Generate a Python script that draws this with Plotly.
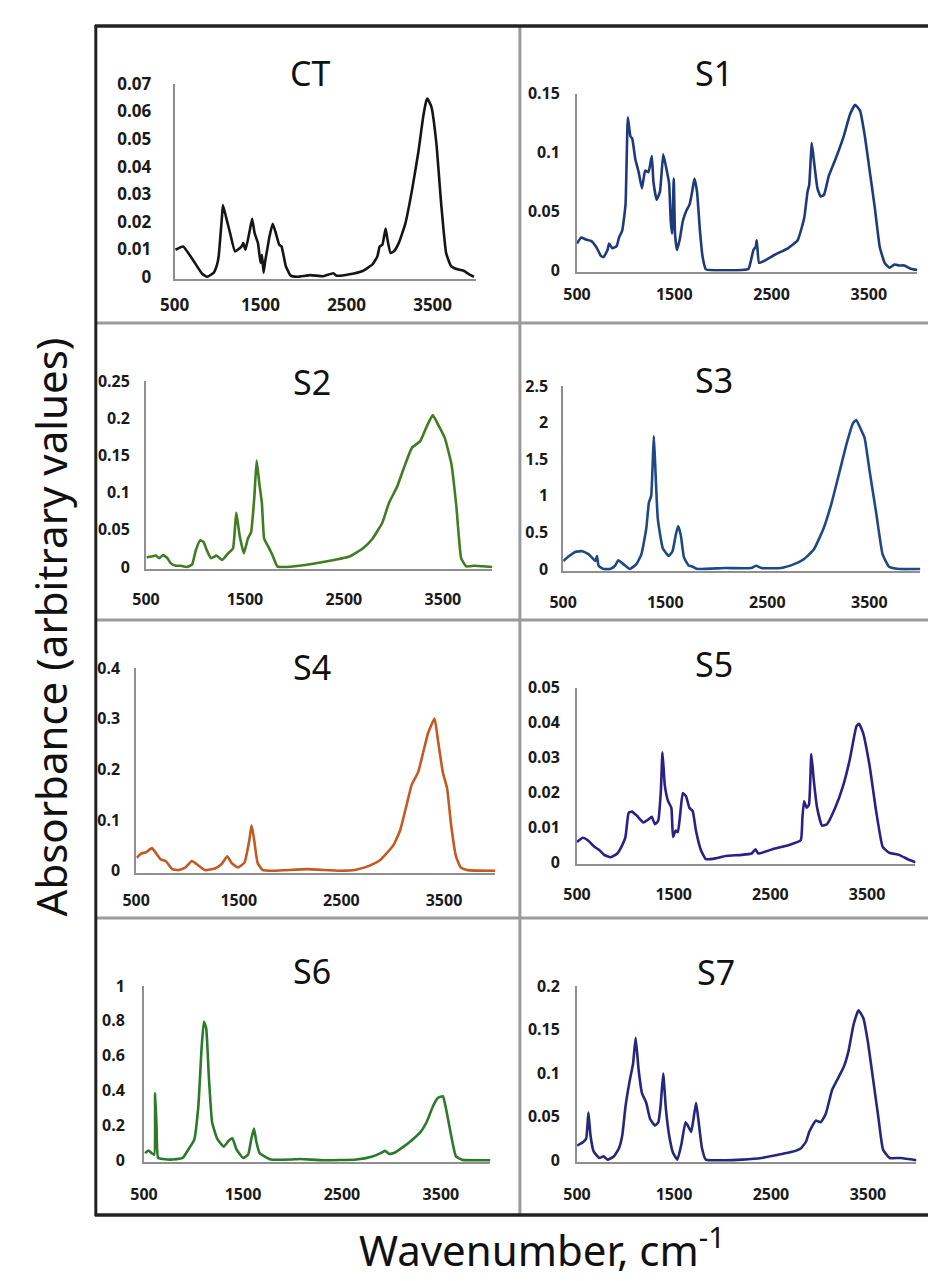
import plotly.graph_objects as go

W, H = 936, 1281
OFF = 8  # page body margin of the html page

panel_names = ["CT", "S1", "S2", "S3", "S4", "S5", "S6", "S7"]
line_colors = ["#151515", "#1f3a7c", "#3f7d22", "#1d4a86", "#c25a22", "#2b1f88", "#2a7a2a", "#24287a"]

ct_x = [511, 600, 710, 823, 880, 956, 995, 1013, 1051, 1063, 1109, 1147, 1204, 1280, 1299, 1325, 1375, 1402, 1432, 1470, 1500, 1516, 1535, 1554, 1577, 1603, 1641, 1679, 1717, 1744, 1793, 1850, 1926, 2079, 2230, 2345, 2383, 2535, 2687, 2801, 2858, 2885, 2916, 2935, 2954, 2973, 3011, 3049, 3106, 3182, 3258, 3334, 3391, 3429, 3440, 3486, 3543, 3600, 3657, 3714, 3790, 3867, 3924, 3981]
ct_y = [0.0098, 0.011, 0.0063, 0.001, 0.0, 0.0015, 0.0045, 0.0074, 0.0216, 0.026, 0.0204, 0.0157, 0.0092, 0.011, 0.0122, 0.0098, 0.0169, 0.021, 0.0157, 0.0122, 0.005, 0.008, 0.0015, 0.0057, 0.0098, 0.0145, 0.0192, 0.0157, 0.0116, 0.011, 0.0039, 0.0004, 0.0, 0.0006, 0.0002, 0.0013, 0.0004, 0.0009, 0.0021, 0.0045, 0.0074, 0.011, 0.0116, 0.0145, 0.0175, 0.0139, 0.0086, 0.0092, 0.0122, 0.0192, 0.031, 0.0452, 0.0582, 0.0641, 0.0647, 0.0617, 0.0487, 0.0263, 0.0086, 0.0039, 0.0027, 0.0021, 0.0009, 0.0]

s1_x = [500, 544, 594, 645, 696, 746, 773, 814, 830, 864, 908, 932, 965, 999, 1023, 1050, 1067, 1100, 1134, 1168, 1201, 1235, 1269, 1286, 1319, 1353, 1387, 1420, 1447, 1464, 1478, 1495, 1508, 1528, 1555, 1589, 1623, 1657, 1684, 1707, 1734, 1764, 1791, 1825, 1859, 2196, 2264, 2314, 2338, 2348, 2372, 2415, 2533, 2668, 2769, 2837, 2870, 2887, 2914, 2938, 2972, 3005, 3039, 3090, 3157, 3241, 3309, 3359, 3410, 3460, 3511, 3562, 3612, 3663, 3713, 3764, 3814, 3865, 3932, 4000]
s1_y = [0.0226, 0.0276, 0.0259, 0.0248, 0.0199, 0.0121, 0.011, 0.0171, 0.0226, 0.0185, 0.0204, 0.0276, 0.0336, 0.0557, 0.13, 0.1136, 0.1122, 0.0943, 0.0833, 0.0695, 0.0846, 0.0833, 0.097, 0.075, 0.0598, 0.0667, 0.0984, 0.086, 0.0736, 0.0419, 0.0309, 0.0778, 0.0309, 0.0171, 0.0254, 0.0419, 0.0502, 0.0557, 0.0667, 0.0778, 0.0667, 0.0336, 0.0116, 0.0006, 0.0, 0.0, 0.0011, 0.0171, 0.0199, 0.0254, 0.0061, 0.0074, 0.013, 0.0185, 0.0254, 0.0447, 0.0667, 0.0722, 0.1081, 0.0915, 0.0695, 0.0626, 0.064, 0.0805, 0.0943, 0.1136, 0.1329, 0.1406, 0.1357, 0.1136, 0.0833, 0.0529, 0.0199, 0.0061, 0.0019, 0.0047, 0.0039, 0.0039, 0.0011, 0.0]

s2_x = [507, 550, 600, 633, 673, 716, 749, 799, 848, 915, 965, 1004, 1047, 1081, 1114, 1157, 1213, 1270, 1330, 1379, 1412, 1446, 1489, 1529, 1562, 1595, 1618, 1645, 1671, 1694, 1728, 1777, 1827, 1894, 2126, 2358, 2557, 2690, 2789, 2889, 2955, 3038, 3121, 3188, 3271, 3337, 3397, 3453, 3519, 3586, 3636, 3685, 3735, 3818, 3901, 4000]
s2_y = [0.0127, 0.014, 0.0153, 0.0118, 0.0162, 0.0118, 0.0052, 0.0017, 0.0017, 0.0, 0.0031, 0.0227, 0.0358, 0.0337, 0.0227, 0.0118, 0.0153, 0.0096, 0.0184, 0.0249, 0.073, 0.0424, 0.0184, 0.038, 0.0468, 0.0948, 0.1429, 0.1123, 0.0861, 0.038, 0.0293, 0.0162, 0.0009, 0.0, 0.0031, 0.0083, 0.014, 0.0249, 0.038, 0.0599, 0.0861, 0.108, 0.1386, 0.1604, 0.1691, 0.1888, 0.2041, 0.191, 0.1735, 0.1386, 0.0817, 0.0118, 0.0009, 0.0017, 0.0009, 0.0]

s3_x = [500, 558, 622, 687, 751, 815, 831, 847, 896, 960, 1008, 1040, 1089, 1153, 1217, 1266, 1314, 1340, 1362, 1378, 1388, 1401, 1427, 1475, 1533, 1571, 1603, 1626, 1652, 1684, 1732, 1764, 1813, 2086, 2343, 2392, 2440, 2633, 2762, 2858, 2955, 3051, 3131, 3212, 3276, 3340, 3372, 3411, 3453, 3501, 3566, 3630, 3694, 3791, 4000]
s3_y = [0.11, 0.177, 0.2345, 0.243, 0.199, 0.11, 0.177, 0.044, 0.0, 0.0, 0.044, 0.119, 0.066, 0.0, 0.066, 0.199, 0.553, 0.907, 0.996, 1.482, 1.814, 1.438, 0.686, 0.288, 0.177, 0.243, 0.465, 0.588, 0.465, 0.155, 0.044, 0.035, 0.0, 0.013, 0.013, 0.044, 0.013, 0.013, 0.066, 0.133, 0.265, 0.553, 0.907, 1.35, 1.704, 1.991, 2.035, 1.925, 1.792, 1.35, 0.774, 0.199, 0.031, 0.0, 0.0]

s4_x = [506, 548, 596, 653, 692, 740, 788, 852, 915, 979, 1043, 1091, 1171, 1267, 1331, 1388, 1427, 1491, 1555, 1603, 1625, 1650, 1683, 1730, 1842, 2162, 2482, 2641, 2769, 2865, 2929, 3009, 3073, 3137, 3185, 3249, 3297, 3345, 3408, 3440, 3488, 3530, 3568, 3616, 3664, 3728, 4000]
s4_y = [0.0256, 0.0339, 0.0365, 0.0448, 0.0352, 0.0224, 0.0192, 0.0032, 0.0013, 0.0064, 0.0192, 0.0128, 0.0013, 0.0045, 0.0128, 0.0288, 0.016, 0.0064, 0.016, 0.0608, 0.0896, 0.0608, 0.016, 0.0019, 0.0, 0.0032, 0.0, 0.0019, 0.0096, 0.0192, 0.032, 0.0512, 0.08, 0.1312, 0.1696, 0.1952, 0.2336, 0.272, 0.3008, 0.2592, 0.1952, 0.1632, 0.0928, 0.0288, 0.0064, 0.0013, 0.0]

s5_x = [500, 561, 612, 680, 730, 781, 849, 917, 968, 1001, 1035, 1069, 1120, 1188, 1239, 1273, 1306, 1340, 1367, 1384, 1408, 1442, 1476, 1493, 1520, 1543, 1567, 1594, 1628, 1662, 1696, 1730, 1781, 1832, 1933, 2035, 2204, 2306, 2346, 2374, 2543, 2712, 2814, 2831, 2848, 2875, 2899, 2923, 2950, 2983, 3034, 3085, 3170, 3254, 3322, 3390, 3417, 3458, 3525, 3593, 3661, 3729, 3830, 3932, 4000]
s5_y = [0.0058, 0.007, 0.0063, 0.0044, 0.0035, 0.0021, 0.0014, 0.0025, 0.0049, 0.0072, 0.0142, 0.0145, 0.0133, 0.0114, 0.0123, 0.013, 0.0109, 0.0119, 0.0203, 0.0315, 0.0221, 0.0175, 0.0156, 0.0072, 0.0091, 0.0086, 0.0137, 0.0198, 0.0189, 0.0156, 0.0147, 0.0091, 0.0035, 0.0009, 0.0011, 0.0018, 0.0021, 0.0025, 0.0037, 0.0025, 0.0039, 0.0051, 0.0063, 0.0128, 0.0175, 0.0156, 0.0165, 0.031, 0.0231, 0.0156, 0.0105, 0.0109, 0.0156, 0.0221, 0.0296, 0.039, 0.0397, 0.0371, 0.0278, 0.0147, 0.0044, 0.0027, 0.0021, 0.0007, 0.0]

s6_x = [510, 543, 576, 603, 612, 626, 642, 692, 791, 890, 956, 1006, 1049, 1082, 1105, 1128, 1155, 1188, 1238, 1304, 1360, 1393, 1436, 1502, 1552, 1585, 1611, 1635, 1668, 1717, 1783, 1982, 2081, 2313, 2644, 2809, 2892, 2935, 2974, 3024, 3123, 3206, 3289, 3355, 3421, 3471, 3520, 3553, 3603, 3652, 3718, 4000]
s6_y = [0.041, 0.056, 0.041, 0.032, 0.385, 0.199, 0.013, 0.007, 0.004, 0.013, 0.069, 0.115, 0.311, 0.646, 0.795, 0.758, 0.479, 0.218, 0.125, 0.078, 0.115, 0.125, 0.06, 0.013, 0.032, 0.125, 0.181, 0.106, 0.041, 0.022, 0.004, 0.004, 0.007, 0.0, 0.004, 0.022, 0.041, 0.054, 0.037, 0.041, 0.078, 0.115, 0.158, 0.218, 0.311, 0.358, 0.367, 0.292, 0.143, 0.022, 0.002, 0.0]

s7_x = [503, 561, 595, 618, 639, 672, 730, 774, 815, 882, 933, 967, 1001, 1045, 1078, 1105, 1136, 1170, 1214, 1254, 1305, 1339, 1362, 1389, 1417, 1450, 1491, 1535, 1575, 1619, 1643, 1677, 1701, 1728, 1751, 1789, 1829, 2032, 2201, 2404, 2573, 2708, 2810, 2861, 2894, 2928, 2962, 3013, 3064, 3131, 3182, 3250, 3300, 3351, 3402, 3453, 3503, 3554, 3605, 3656, 3723, 3841, 4000]
s7_y = [0.0168, 0.0205, 0.025, 0.0547, 0.0287, 0.0101, 0.0026, 0.0045, 0.0007, 0.0045, 0.0138, 0.0287, 0.0622, 0.092, 0.1106, 0.1404, 0.1032, 0.0771, 0.0659, 0.0473, 0.0398, 0.0436, 0.0622, 0.0994, 0.0585, 0.0287, 0.0082, 0.0007, 0.0175, 0.0436, 0.0398, 0.0324, 0.0473, 0.0659, 0.0473, 0.0138, 0.0007, 0.0, 0.0007, 0.0026, 0.0063, 0.0093, 0.0138, 0.0212, 0.0324, 0.0398, 0.0454, 0.0436, 0.0529, 0.0808, 0.092, 0.1069, 0.1255, 0.1553, 0.1721, 0.1628, 0.133, 0.092, 0.051, 0.0119, 0.0026, 0.0026, 0.0]

x_tick_vals = [500, 1500, 2500, 3500]
x_tick_text = ["500", "1500", "2500", "3500"]

y_tick_text = [
    ["0", "0.01", "0.02", "0.03", "0.04", "0.05", "0.06", "0.07"],
    ["0", "0.05", "0.1", "0.15"],
    ["0", "0.05", "0.1", "0.15", "0.2", "0.25"],
    ["0", "0.5", "1", "1.5", "2", "2.5"],
    ["0", "0.1", "0.2", "0.3", "0.4"],
    ["0", "0.01", "0.02", "0.03", "0.04", "0.05"],
    ["0", "0.2", "0.4", "0.6", "0.8", "1"],
    ["0", "0.05", "0.1", "0.15", "0.2"],
]

series_x = [ct_x, s1_x, s2_x, s3_x, s4_x, s5_x, s6_x, s7_x]
series_y = [ct_y, s1_y, s2_y, s3_y, s4_y, s5_y, s6_y, s7_y]

# page-pixel boxes of each plot area (x0, x1, ytop, ybottom)
boxes = [
    (162, 468, 73, 271),
    (571, 917, 83, 264),
    (133, 485, 375, 566),
    (557, 920, 380, 568),
    (123, 488, 667, 875),
    (571, 915, 687, 866),
    (131, 483, 990, 1169),
    (571, 916, 990, 1169),
]
title_pos = [(300, 62), (710, 62), (302, 376), (710, 374), (302, 666), (710, 663), (302, 975), (712, 976)]
x_label_gap = [26, 23, 31, 32, 28, 31, 33, 33]
y_label_gap = [20, 14, 13, 12, 13, 14, 16, 14]
tick_size = [17, 16, 16, 16, 16, 16, 16, 16]


def px(x):
    return (x - OFF) / W


def py(y):
    return 1 - (y - OFF) / H


fig = go.Figure()
annotations = []
for i in range(8):
    n = "" if i == 0 else str(i + 1)
    x0, x1, yt, yb = boxes[i]
    yvals = [float(t) for t in y_tick_text[i]]
    ymax = yvals[-1]
    tf = dict(family="Noto Sans", size=tick_size[i], color="#1a1a1a", weight="bold")
    fig.add_trace(go.Scatter(
        x=series_x[i], y=series_y[i], mode="lines",
        line=dict(color=line_colors[i], width=2.6, shape="spline", smoothing=0.4),
        xaxis="x" + n, yaxis="y" + n, showlegend=False, hoverinfo="skip"))
    fig.layout["xaxis" + n] = dict(
        domain=[px(x0), px(x1)], anchor="y" + n, range=[500, 4000],
        showline=True, linecolor="#8f8f8f", linewidth=1.8, showgrid=False, zeroline=False,
        ticks="", tickvals=x_tick_vals, ticktext=x_tick_text,
        ticklabelstandoff=max(x_label_gap[i] - 16, 0), tickfont=tf,
    )
    fig.layout["yaxis" + n] = dict(
        domain=[py(yb), py(yt)], anchor="x" + n, range=[-0.01 * ymax, ymax],
        showline=True, linecolor="#8f8f8f", linewidth=1.8, showgrid=False, zeroline=False,
        ticks="", tickvals=yvals, ticktext=y_tick_text[i],
        ticklabelstandoff=max(y_label_gap[i] - 2, 0), tickfont=tf,
    )
    tx, ty = title_pos[i]
    annotations.append(dict(text=panel_names[i], x=px(tx), y=py(ty), xref="paper", yref="paper",
                            showarrow=False, xanchor="center", yanchor="middle",
                            font=dict(family="Noto Sans", size=34, color="#111111")))

annotations.append(dict(text="Absorbance (arbitrary values)", x=px(36), y=py(625), xref="paper", yref="paper",
                        showarrow=False, textangle=-90, xanchor="center", yanchor="middle",
                        font=dict(family="Noto Sans", size=42, color="#111111")))
annotations.append(dict(text="Wavenumber, cm<sup>-1</sup>", x=px(535), y=py(1256), xref="paper", yref="paper",
                        showarrow=False, xanchor="center", yanchor="middle",
                        font=dict(family="Noto Sans", size=42, color="#111111")))

shapes = []
gray = "#9a9a9a"
dark = "#222222"
for yy in [316, 618, 921]:
    shapes.append(dict(type="line", xref="paper", yref="paper", x0=px(82), x1=px(950), y0=py(yy), y1=py(yy),
                       line=dict(color=gray, width=3)))
shapes.append(dict(type="line", xref="paper", yref="paper", x0=px(513), x1=px(513), y0=py(14), y1=py(1223),
                   line=dict(color=gray, width=3)))
shapes.append(dict(type="line", xref="paper", yref="paper", x0=px(82), x1=px(82), y0=py(13), y1=py(1224),
                   line=dict(color=dark, width=3)))
shapes.append(dict(type="line", xref="paper", yref="paper", x0=px(81), x1=px(950), y0=py(14), y1=py(14),
                   line=dict(color=dark, width=3.5)))
shapes.append(dict(type="line", xref="paper", yref="paper", x0=px(81), x1=px(950), y0=py(1223), y1=py(1223),
                   line=dict(color=dark, width=3.5)))

fig.update_layout(
    width=W, height=H, margin=dict(l=0, r=0, t=0, b=0),
    paper_bgcolor="white", plot_bgcolor="white",
    annotations=annotations, shapes=shapes,
)

fig.write_html("out.html")
